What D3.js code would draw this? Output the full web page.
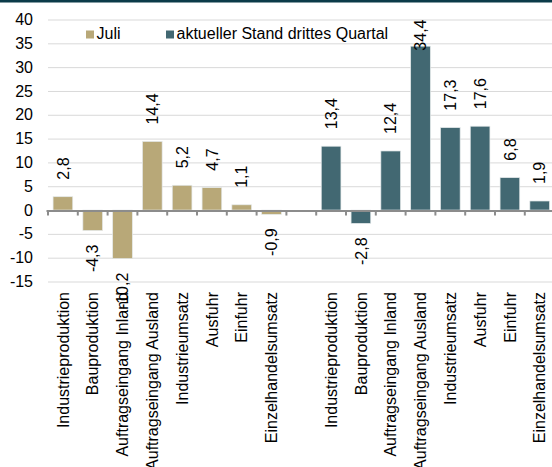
<!DOCTYPE html>
<html>
<head>
<meta charset="utf-8">
<script src="https://cdn.jsdelivr.net/npm/d3@7"></script>
<style>
  body { margin: 0; background: #fff; }
  text { font-family: "Liberation Sans", Arial, sans-serif; }
</style>
</head>
<body>
<div id="chart"></div>
<script>
// Daten
const kategorien = ["Industrieproduktion", "Bauproduktion", "Auftragseingang Inland",
  "Auftragseingang Ausland", "Industrieumsatz", "Ausfuhr", "Einfuhr", "Einzelhandelsumsatz"];
const werteJuli = [2.8, -4.3, -10.2, 14.4, 5.2, 4.7, 1.1, -0.9];
const werteQuartal = [13.4, -2.8, 12.4, 34.4, 17.3, 17.6, 6.8, 1.9];
const serien = ["Juli", "aktueller Stand drittes Quartal"];
const yTicks = [-15, -10, -5, 0, 5, 10, 15, 20, 25, 30, 35, 40];

const farben = ["#b8a878", "#426872"];
const fs = 16;

const width = 552, height = 467;
const svg = d3.select("#chart").append("svg")
  .attr("width", width)
  .attr("height", height);

// dunkler Streifen oben
svg.append("rect")
  .attr("x", 0).attr("y", 0)
  .attr("width", width).attr("height", 2.5)
  .attr("fill", "#0b3b49");

// Slots: 8 Juli, 1 Lücke, 8 Quartal
const slots = [];
kategorien.forEach((k, i) => slots.push({ key: "j" + i, name: k, wert: werteJuli[i], serie: 0 }));
slots.push({ key: "gap", name: "", wert: null, serie: -1 });
kategorien.forEach((k, i) => slots.push({ key: "q" + i, name: k, wert: werteQuartal[i], serie: 1 }));

const x = d3.scaleBand()
  .domain(slots.map(d => d.key))
  .range([48, 48 + 17 * 29.8])
  .paddingInner(0.34)
  .paddingOuter(0.17);

const y = d3.scaleLinear()
  .domain([-15, 40])
  .range([281.5, 19.5]);

const locale = d3.formatLocale({ decimal: ",", thousands: ".", grouping: [3], currency: ["", "€"], minus: "-" });
const fmt = locale.format(".1f");
const fmtAchse = locale.format("d");

// Gitternetz
svg.append("g")
  .attr("transform", "translate(48,0)")
  .call(d3.axisLeft(y).tickValues(yTicks.filter(t => t !== 0)).tickSize(-(width - 48)).tickFormat(""))
  .call(g => g.select(".domain").remove())
  .call(g => g.selectAll("line").attr("stroke", "#d9d9d9").attr("stroke-width", 1));

// y-Achse Beschriftung
svg.append("g")
  .attr("transform", "translate(48,0)")
  .call(d3.axisLeft(y).tickValues(yTicks).tickSize(0).tickPadding(15).tickFormat(fmtAchse))
  .call(g => g.select(".domain").remove())
  .call(g => g.selectAll("text").attr("font-size", fs).attr("fill", "#000")
    .style("font-family", "'Liberation Sans', Arial, sans-serif"));

// Balken
const balken = slots.filter(d => d.wert !== null);
svg.append("g").selectAll("rect")
  .data(balken)
  .join("rect")
  .attr("x", d => x(d.key))
  .attr("width", x.bandwidth())
  .attr("y", d => y(Math.max(0, d.wert)))
  .attr("height", d => Math.abs(y(d.wert) - y(0)))
  .attr("fill", d => farben[d.serie])
  .attr("stroke", "#e4e9ea")
  .attr("stroke-width", 0.7);

// Nulllinie mit Teilstrichen
const step = x.step();
const grenzen = slots.map(d => x(d.key) - (step - x.bandwidth()) / 2);
svg.append("line")
  .attr("x1", 46.5).attr("x2", width)
  .attr("y1", y(0) + 1).attr("y2", y(0) + 1)
  .attr("stroke", "#8c8c8c").attr("stroke-width", 2);
svg.append("g").selectAll("line")
  .data(grenzen)
  .join("line")
  .attr("x1", d => d).attr("x2", d => d)
  .attr("y1", y(0) + 1).attr("y2", y(0) + 5.5)
  .attr("stroke", "#8c8c8c").attr("stroke-width", 2);

// Werte-Beschriftungen
const labels = svg.append("g").selectAll("text")
  .data(balken)
  .join("text")
  .attr("font-size", fs)
  .attr("fill", "#000")
  .attr("dy", "0.35em")
  .attr("text-anchor", d => d.wert >= 0 ? "start" : "end")
  .text(d => fmt(d.wert));

labels.attr("transform", function (d) {
  const cx = x(d.key) + x.bandwidth() / 2;
  let pos;
  if (d.wert >= 0) {
    pos = y(d.wert) - 17;
    const len = this.getComputedTextLength();
    if (pos - len < y(40)) pos = y(40) + len;
  } else {
    pos = y(d.wert) + 14;
  }
  return "translate(" + cx + "," + pos + ") rotate(-90)";
});

// Kategorie-Beschriftungen
svg.append("g")
  .attr("transform", "translate(0,292)")
  .call(d3.axisBottom(x).tickSize(0).tickPadding(0).tickFormat(k => slots.find(s => s.key === k).name))
  .call(g => g.select(".domain").remove())
  .call(g => g.selectAll("text")
    .attr("font-size", fs)
    .attr("fill", "#000")
    .attr("y", 0)
    .attr("dy", "0.35em")
    .attr("transform", "rotate(-90)")
    .style("text-anchor", "end")
    .style("font-family", "'Liberation Sans', Arial, sans-serif"));

// Legende
const legendePos = [86, 166];
const legende = svg.append("g").selectAll("g")
  .data(serien)
  .join("g")
  .attr("transform", (d, i) => "translate(" + legendePos[i] + ",30.5)");
legende.append("rect")
  .attr("width", 8).attr("height", 8)
  .attr("fill", (d, i) => farben[i]);
legende.append("text")
  .attr("x", 10.5).attr("y", 8.5)
  .attr("font-size", fs)
  .attr("fill", "#000")
  .text(d => d);
</script>
</body>
</html>
